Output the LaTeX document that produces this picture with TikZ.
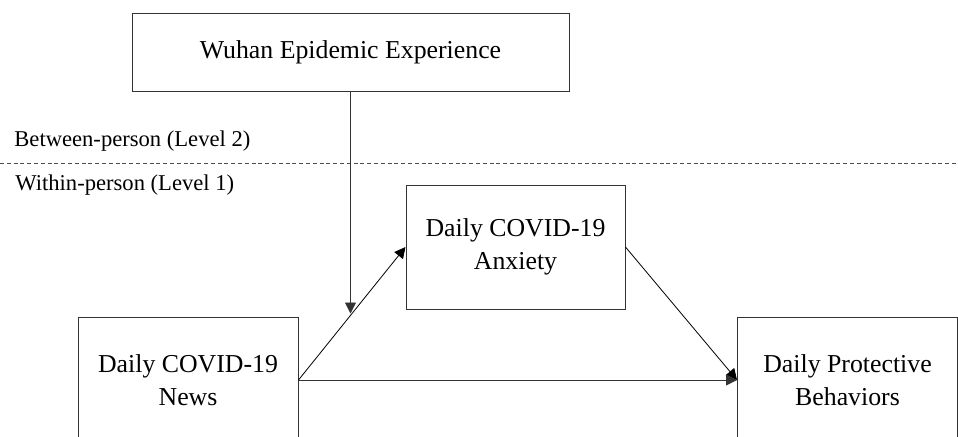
\documentclass[tikz,border=0pt]{standalone}
\usepackage{fontspec}
\setmainfont{Liberation Serif}
\usetikzlibrary{arrows.meta,calc}
\begin{document}
\begin{tikzpicture}[x=0.5pt,y=-0.5pt,
  box/.style={draw=black!80,line width=0.5pt,align=center,inner sep=0pt,font=\fontsize{12.9}{16.3}\selectfont},
  lvl/.style={anchor=west,inner sep=0pt,font=\fontsize{11.3}{13}\selectfont},
  path/.style={-{Triangle[length=5.5pt,width=5.5pt]},line width=0.4pt}]
 \useasboundingbox (0,0) rectangle (958,436);
 \clip (0,0) rectangle (958,436);
 \node[box,minimum width=218.5pt,minimum height=39pt] (wuhan) at (350.5,52) {Wuhan Epidemic Experience};
 \node[box,minimum width=110pt,minimum height=63pt] (news) at (188,380) {Daily COVID-19\\News};
 \node[box,minimum width=109.5pt,minimum height=62pt] (anxiety) at (515.5,247) {Daily COVID-19\\Anxiety};
 \node[box,minimum width=110pt,minimum height=63pt] (protect) at (847.5,380) {Daily Protective\\Behaviors};
 \node[lvl] (between) at (14,141) {Between-person (Level 2)};
 \node[lvl] (within) at (15,185) {Within-person (Level 1)};
 \coordinate (sepl) at (0,163);
 \coordinate (sepr) at (958,163);
 \draw[black!70,line width=0.4pt,dash pattern=on 2pt off 1.4pt] (sepl) -- (sepr);
 \coordinate (mid) at ($(news.east)!0.5!(anxiety.west)$);
 \draw[path] (news.east) -- (anxiety.west);
 \draw[path,black!80] (wuhan.south) -- (wuhan.south |- mid);
 \draw[path] (anxiety.east) -- (protect.west);
 \draw[path,black!80] (news.east) -- (protect.west);
\end{tikzpicture}
\end{document}
